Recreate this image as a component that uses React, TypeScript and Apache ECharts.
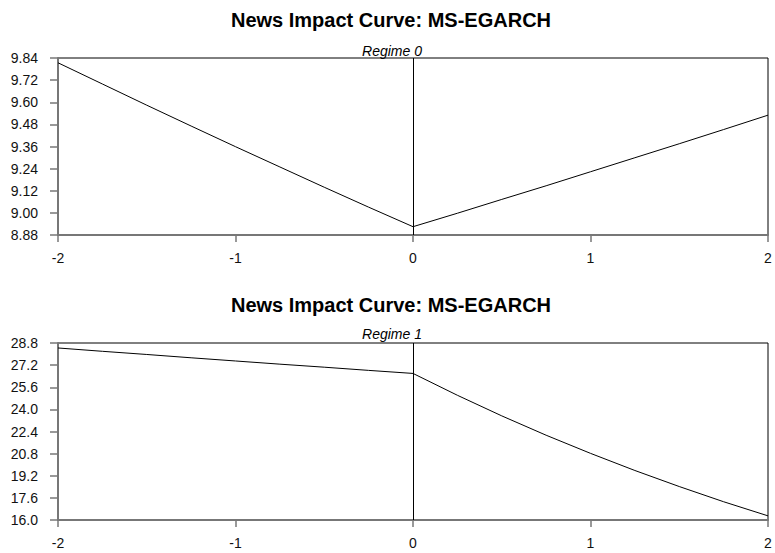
import React, { useEffect, useRef } from "react";
import * as echarts from "echarts";

// Shock grid (standardised news z)
const shocks = [-2, -1.75, -1.5, -1.25, -1, -0.75, -0.5, -0.25, 0, 0.25, 0.5, 0.75, 1, 1.25, 1.5, 1.75, 2];

// Conditional variance response, regime 0
const regime0 = [9.814, 9.699, 9.584, 9.471, 9.359, 9.249, 9.139, 9.031, 8.925, 8.998, 9.073, 9.147, 9.223, 9.299, 9.375, 9.452, 9.53];

// Conditional variance response, regime 1
const regime1 = [28.44, 28.2, 27.97, 27.73, 27.5, 27.27, 27.05, 26.82, 26.6, 25.02, 23.53, 22.13, 20.82, 19.58, 18.42, 17.32, 16.3];

const chartTitle = "News Impact Curve: MS-EGARCH";
const regimeLabels = ["Regime 0", "Regime 1"];

// Axis ranges
const yRange0 = { min: 8.88, max: 9.84, interval: 0.12, digits: 2 };
const yRange1 = { min: 16.0, max: 28.8, interval: 1.6, digits: 1 };
const xRange = { min: -2, max: 2, interval: 1 };

const FONT = "'Liberation Sans', Arial, Helvetica, sans-serif";

export default function App() {
  const ref = useRef<HTMLDivElement>(null);

  useEffect(() => {
    if (!ref.current) return;
    const chart = echarts.init(ref.current, undefined, { renderer: "svg" });

    const grids = [
      { left: 58, right: 7, top: 58, height: 177 },
      { left: 58, right: 7, top: 343, height: 177 },
    ];

    const xAxisFor = (gridIndex: number) => ({
      type: "value",
      gridIndex,
      min: xRange.min,
      max: xRange.max,
      interval: xRange.interval,
      axisLine: { show: true, onZero: false, lineStyle: { color: "#777", width: 2 } },
      axisTick: { show: true, inside: false, length: 7, lineStyle: { color: "#777", width: 1.5 } },
      axisLabel: { margin: 16, color: "#111", fontSize: 14, fontFamily: FONT },
      splitLine: { show: false },
    });

    const yAxisFor = (gridIndex: number, r: typeof yRange0) => ({
      type: "value",
      gridIndex,
      min: r.min,
      max: r.max,
      interval: r.interval,
      axisLine: { show: true, onZero: false, lineStyle: { color: "#777", width: 2 } },
      axisTick: { show: true, inside: false, length: 8, lineStyle: { color: "#777", width: 1.5 } },
      axisLabel: {
        margin: 20,
        color: "#111",
        fontSize: 14,
        fontFamily: FONT,
        showMinLabel: true,
        showMaxLabel: true,
        formatter: (v: number) => v.toFixed(r.digits),
      },
      splitLine: { show: false },
    });

    const zeroLine = {
      silent: true,
      symbol: ["none", "none"],
      label: { show: false },
      lineStyle: { color: "#000", width: 1, type: "solid" },
      data: [{ xAxis: 0 }],
    };

    const titleAt = (y: number) => ({
      type: "text",
      x: 391,
      y,
      style: {
        text: chartTitle,
        fill: "#000",
        font: `bold 20px ${FONT}`,
        textAlign: "center",
        textVerticalAlign: "middle",
      },
    });

    const subAt = (y: number, txt: string) => ({
      type: "text",
      x: 392,
      y,
      style: {
        text: txt,
        fill: "#000",
        font: `italic 14px ${FONT}`,
        textAlign: "center",
        textVerticalAlign: "middle",
      },
    });

    chart.setOption({
      animation: false,
      backgroundColor: "#fff",
      graphic: [titleAt(20), subAt(51, regimeLabels[0]), titleAt(305), subAt(334, regimeLabels[1])],
      grid: grids.map((g) => ({ ...g, show: true, borderColor: "#000", borderWidth: 1, backgroundColor: "transparent" })),
      xAxis: [xAxisFor(0), xAxisFor(1)],
      yAxis: [yAxisFor(0, yRange0), yAxisFor(1, yRange1)],
      series: [
        {
          name: regimeLabels[0],
          type: "line",
          xAxisIndex: 0,
          yAxisIndex: 0,
          data: shocks.map((x, i) => [x, regime0[i]]),
          showSymbol: false,
          lineStyle: { color: "#000", width: 1 },
          markLine: zeroLine,
        },
        {
          name: regimeLabels[1],
          type: "line",
          xAxisIndex: 1,
          yAxisIndex: 1,
          data: shocks.map((x, i) => [x, regime1[i]]),
          showSymbol: false,
          lineStyle: { color: "#000", width: 1 },
          markLine: zeroLine,
        },
      ],
    });

    return () => chart.dispose();
  }, []);

  return <div ref={ref} style={{ width: 775, height: 553, position: "absolute", left: 0, top: 0 }} />;
}
